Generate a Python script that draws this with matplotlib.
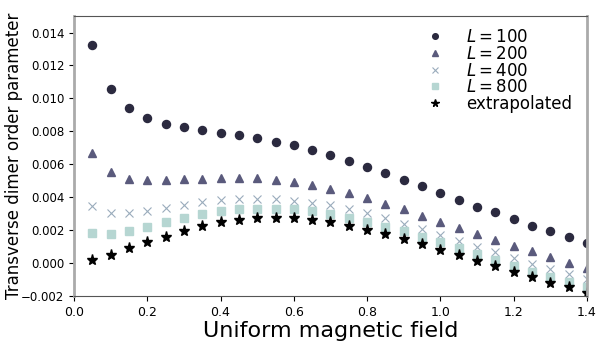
import numpy as np
import matplotlib
matplotlib.use("Agg")
import matplotlib.pyplot as plt

field = [0.05, 0.10, 0.15, 0.20, 0.25, 0.30, 0.35, 0.40, 0.45, 0.50, 0.55, 0.60, 0.65, 0.70,
         0.75, 0.80, 0.85, 0.90, 0.95, 1.00, 1.05, 1.10, 1.15, 1.20, 1.25, 1.30, 1.35, 1.40]

L100 = [13.27, 10.57, 9.42, 8.81, 8.44, 8.24, 8.05, 7.91, 7.75, 7.59, 7.36, 7.14, 6.86, 6.55,
        6.21, 5.86, 5.48, 5.07, 4.67, 4.26, 3.85, 3.43, 3.09, 2.66, 2.27, 1.93, 1.58, 1.22]
L200 = [6.71, 5.54, 5.13, 5.03, 5.03, 5.09, 5.13, 5.17, 5.17, 5.15, 5.03, 4.91, 4.73, 4.50,
        4.24, 3.94, 3.61, 3.27, 2.88, 2.51, 2.13, 1.75, 1.40, 1.05, 0.71, 0.37, 0.02, -0.29]
L400 = [3.45, 3.02, 3.02, 3.15, 3.33, 3.53, 3.69, 3.81, 3.90, 3.91, 3.88, 3.79, 3.67, 3.53,
        3.27, 3.02, 2.72, 2.39, 2.05, 1.70, 1.36, 0.99, 0.65, 0.30, -0.04, -0.38, -0.69, -0.99]
L800 = [1.83, 1.75, 1.97, 2.21, 2.50, 2.74, 2.98, 3.15, 3.27, 3.31, 3.31, 3.27, 3.16, 2.98,
        2.76, 2.51, 2.21, 1.93, 1.60, 1.26, 0.89, 0.53, 0.18, -0.16, -0.53, -0.85, -1.17, -1.44]
extrap = [0.16, 0.49, 0.89, 1.26, 1.60, 1.97, 2.25, 2.48, 2.64, 2.72, 2.74, 2.72, 2.62, 2.48,
          2.27, 2.03, 1.75, 1.46, 1.14, 0.81, 0.47, 0.14, -0.20, -0.53, -0.87, -1.22, -1.48, -1.81]

yticks = [-0.002, 0.0, 0.002, 0.004, 0.006, 0.008, 0.010, 0.012, 0.014]

x = np.array(field)
fig, ax = plt.subplots(figsize=(5.98, 3.49), dpi=100)
fig.subplots_adjust(left=0.1237, right=0.9816, top=0.954, bottom=0.152)

ax.plot(x, np.array(L100) * 1e-3, "o", color="#2b2a3f", ms=5.8, label=r"$L = 100$")
ax.plot(x, np.array(L200) * 1e-3, "^", color="#5a5a7c", ms=5.8, label=r"$L = 200$")
ax.plot(x, np.array(L400) * 1e-3, "x", color="#9aacbc", ms=5.8, mew=0.8, label=r"$L = 400$")
ax.plot(x, np.array(L800) * 1e-3, "s", color="#b6d6d2", ms=5.8, label=r"$L = 800$")
ax.plot(x, np.array(extrap) * 1e-3, "*", color="black", ms=8, label="extrapolated")

ax.set_xlim(0, 1.4)
ax.set_ylim(-0.002, 0.015)
ax.set_yticks(yticks)
ax.set_yticklabels([("%.3f" % v).replace("-", "\u2212") for v in yticks])
ax.tick_params(axis="y", labelsize=8.5)
ax.tick_params(axis="x", labelsize=9)
ax.set_xlabel("Uniform magnetic field", fontsize=16, labelpad=2)
ax.set_ylabel("Transverse dimer order parameter", fontsize=12)
ax.yaxis.set_label_coords(-0.1, 0.5)

for s in ["left", "right"]:
    ax.spines[s].set_color("#aaaaaa")
    ax.spines[s].set_linewidth(2)
for s in ["top", "bottom"]:
    ax.spines[s].set_color("#555555")

ax.legend(loc="upper right", fontsize=12, frameon=False, markerscale=0.7,
          handlelength=1.5, handletextpad=1.1, labelspacing=-0.08,
          bbox_to_anchor=(1.0, 1.01))

plt.savefig("out.png")
